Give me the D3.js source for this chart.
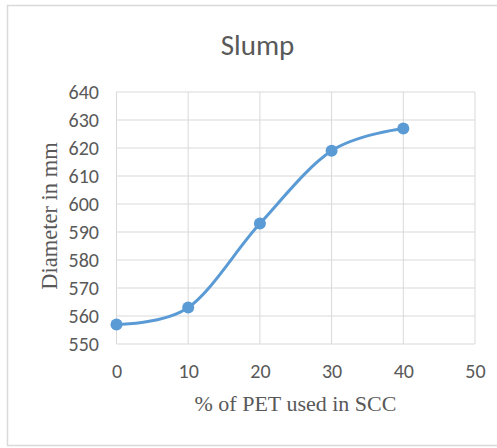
<!DOCTYPE html>
<html>
<head>
<meta charset="utf-8">
<script src="https://cdn.jsdelivr.net/npm/d3@7"></script>
<style>
  body { margin: 0; background: #fff; }
  svg { display: block; }
</style>
</head>
<body>
<div id="chart"></div>
<script>
const pet = [0, 10, 20, 30, 40];
const diameter = [557, 563, 593, 619, 627];
const xTicks = [0, 10, 20, 30, 40, 50];
const yTicks = [550, 560, 570, 580, 590, 600, 610, 620, 630, 640];

const W = 497, H = 448;
const margin = { top: 92, right: 22, bottom: 104, left: 116.5 };
const width = 475 - margin.left;
const height = 344 - margin.top;
const sans = 'Calibri, Carlito, Lato, sans-serif';
const serif = '"Times New Roman", "Liberation Serif", serif';

const svg = d3.select('#chart')
  .append('svg')
  .attr('width', W)
  .attr('height', H);

// Outer frame
svg.append('rect')
  .attr('x', 7.5).attr('y', 5.5)
  .attr('width', W).attr('height', 440)
  .attr('fill', '#fff')
  .attr('stroke', '#d9d9d9')
  .attr('stroke-width', 1.5);

const g = svg.append('g')
  .attr('transform', `translate(${margin.left},${margin.top})`);

const x = d3.scaleLinear().domain([0, 50]).range([0, width]);
const y = d3.scaleLinear().domain([550, 640]).range([height, 0]);

// Gridlines
g.append('g')
  .selectAll('line')
  .data(yTicks)
  .join('line')
  .attr('x1', 0).attr('x2', width)
  .attr('y1', d => y(d)).attr('y2', d => y(d))
  .attr('stroke', '#d9d9d9')
  .attr('stroke-width', 1);

g.append('g')
  .selectAll('line')
  .data(xTicks)
  .join('line')
  .attr('x1', d => x(d)).attr('x2', d => x(d))
  .attr('y1', 0).attr('y2', height)
  .attr('stroke', '#d9d9d9')
  .attr('stroke-width', 1);

// Axes (labels only)
const yAxis = g.append('g')
  .call(d3.axisLeft(y).tickValues(yTicks).tickSize(0).tickPadding(17.5));
yAxis.select('.domain').remove();
yAxis.selectAll('text')
  .attr('fill', '#595959')
  .style('font-family', sans)
  .style('font-size', '20px');

const xAxis = g.append('g')
  .attr('transform', `translate(0,${height})`)
  .call(d3.axisBottom(x).tickValues(xTicks).tickSize(0).tickPadding(20));
xAxis.select('.domain').remove();
xAxis.selectAll('text')
  .attr('fill', '#595959')
  .style('font-family', sans)
  .style('font-size', '20px');

// Line
const pts = pet.map((p, i) => ({ p, d: diameter[i] }));

g.append('path')
  .datum(pts)
  .attr('fill', 'none')
  .attr('stroke', '#5b9bd5')
  .attr('stroke-width', 3)
  .attr('stroke-linecap', 'round')
  .attr('d', d3.line()
    .x(d => x(d.p))
    .y(d => y(d.d))
    .curve(d3.curveCatmullRom.alpha(0)));

g.selectAll('.dot')
  .data(pts)
  .join('circle')
  .attr('cx', d => x(d.p))
  .attr('cy', d => y(d.d))
  .attr('r', 6)
  .attr('fill', '#5b9bd5');

// Title
svg.append('text')
  .attr('x', 257.5)
  .attr('y', 55)
  .attr('text-anchor', 'middle')
  .attr('fill', '#595959')
  .style('font-family', sans)
  .style('font-size', '29px')
  .text('Slump');

// Axis titles
svg.append('text')
  .attr('x', 295.5)
  .attr('y', 411)
  .attr('text-anchor', 'middle')
  .attr('fill', '#595959')
  .style('font-family', serif)
  .style('font-size', '22px')
  .text('% of PET used in SCC');

svg.append('text')
  .attr('transform', `translate(57,${margin.top + height / 2 - 2}) rotate(-90)`)
  .attr('text-anchor', 'middle')
  .attr('fill', '#595959')
  .style('font-family', serif)
  .style('font-size', '22.5px')
  .text('Diameter in mm');
</script>
</body>
</html>
